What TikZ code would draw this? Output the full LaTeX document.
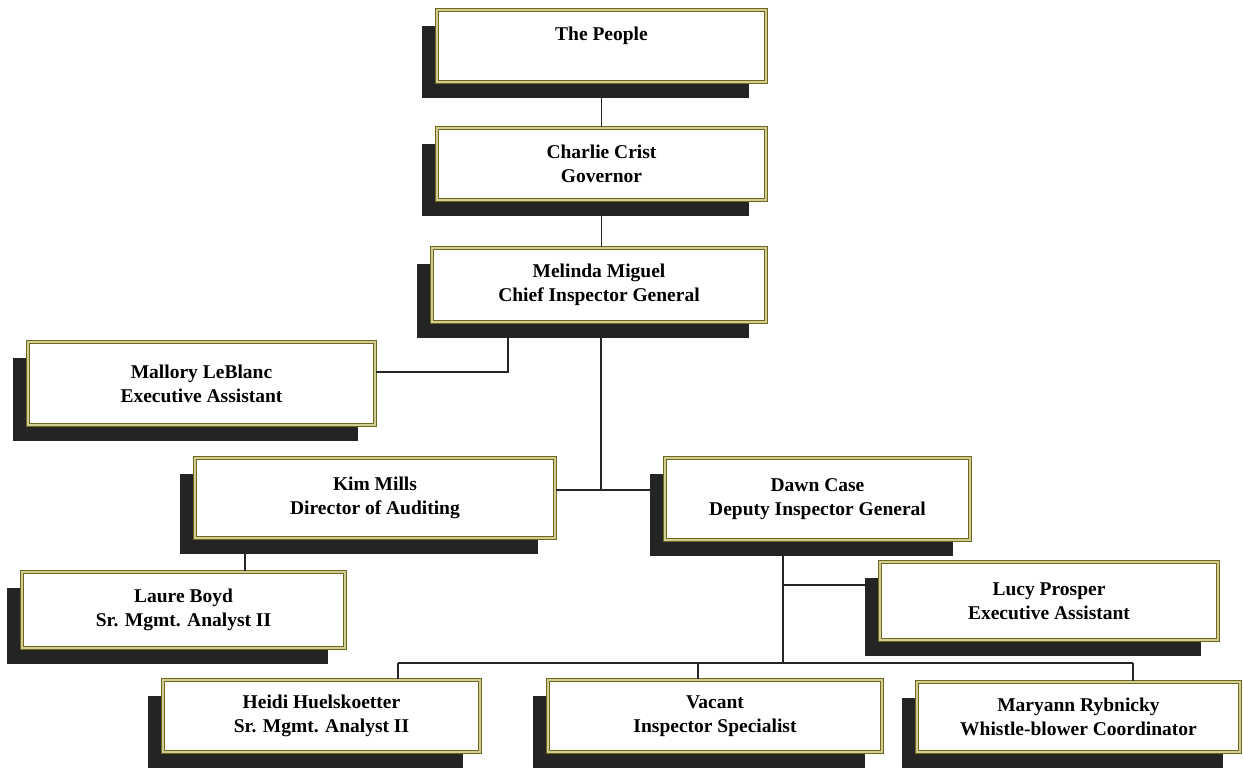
\documentclass[tikz,border=0pt]{standalone}
\usepackage{fontspec}
\setmainfont{Liberation Serif}
\usetikzlibrary{calc}
\definecolor{olivedark}{HTML}{6B6A1C}
\definecolor{olivelight}{HTML}{D2CB96}
\definecolor{shade}{HTML}{242424}
\tikzset{
  shadowbox/.style={fill=shade, draw=none, inner sep=0pt, outer sep=0pt},
  orgbox/.style={draw=olivedark, line width=1.3pt, double=olivelight, double distance=1.6pt,
    fill=white, align=center, inner sep=0pt, font=\bfseries\fontsize{19.5}{24}\selectfont},
  link/.style={draw=black!85, line width=1.5pt}
}
\newcommand\orgnode[6]{%
  \node[shadowbox, minimum width={#4-#2-2}, minimum height={#5-#3}] (#1-s) at ({(#2+#4)/2-16},{(#3+#5)/2+16}) {};
  \node[orgbox, minimum width={#4-#2}, minimum height={#5-#3}] (#1) at ({(#2+#4)/2},{(#3+#5)/2}) {#6};
}
\begin{document}
\begin{tikzpicture}[x=1pt,y=-1pt]
\useasboundingbox (0,0) rectangle (1243,774);
\orgnode{people}{437}{10}{766}{82}{The People\\ ~}
\orgnode{charlie}{437}{128}{766}{200}{Charlie Crist\\Governor}
\orgnode{melinda}{432}{248}{766}{322}{Melinda Miguel\\Chief Inspector General}
\orgnode{mallory}{28}{342}{375}{425}{Mallory LeBlanc\\Executive Assistant}
\orgnode{kim}{195}{458}{555}{538}{Kim Mills\\Director of Auditing}
\orgnode{dawn}{665}{458}{970}{540}{Dawn Case\\Deputy Inspector General}
\orgnode{laure}{22}{572}{345}{648}{Laure Boyd\\Sr. Mgmt. Analyst II}
\orgnode{lucy}{880}{562}{1218}{640}{Lucy Prosper\\Executive Assistant}
\orgnode{heidi}{163}{680}{480}{752}{Heidi Huelskoetter\\Sr. Mgmt. Analyst II}
\orgnode{vacant}{548}{680}{882}{752}{Vacant\\Inspector Specialist}
\orgnode{maryann}{917}{682}{1240}{752}{Maryann Rybnicky\\Whistle-blower Coordinator}

\coordinate (j1) at (601,490);
\coordinate (j2) at (508,372);
\coordinate (j3) at (245,0);
\coordinate (j4) at (783,663);
\coordinate (j5) at (783,585);
\coordinate (b1) at (398,663);
\coordinate (b2) at (698,663);
\coordinate (b3) at (1133,663);

\draw[link] (people-s.south -| people.south) -- (charlie.north);
\draw[link] (charlie-s.south -| charlie.south) -- (melinda.north -| charlie.south);
\draw[link] (melinda-s.south -| j1) -- (j1);
\draw[link] (kim.east |- j1) -- (dawn-s.west |- j1);
\draw[link] (mallory.east |- j2) -- (j2) -- (melinda-s.south -| j2);
\draw[link] (kim-s.south -| j3) -- (laure.north -| j3);
\draw[link] (dawn-s.south -| j4) -- (j4);
\draw[link] (j5) -- (lucy-s.west |- j5);
\draw[link] (b1) -- (b3);
\draw[link] (b1) -- (heidi.north -| b1);
\draw[link] (b2) -- (vacant.north -| b2);
\draw[link] (b3) -- (maryann.north -| b3);
\end{tikzpicture}
\end{document}
